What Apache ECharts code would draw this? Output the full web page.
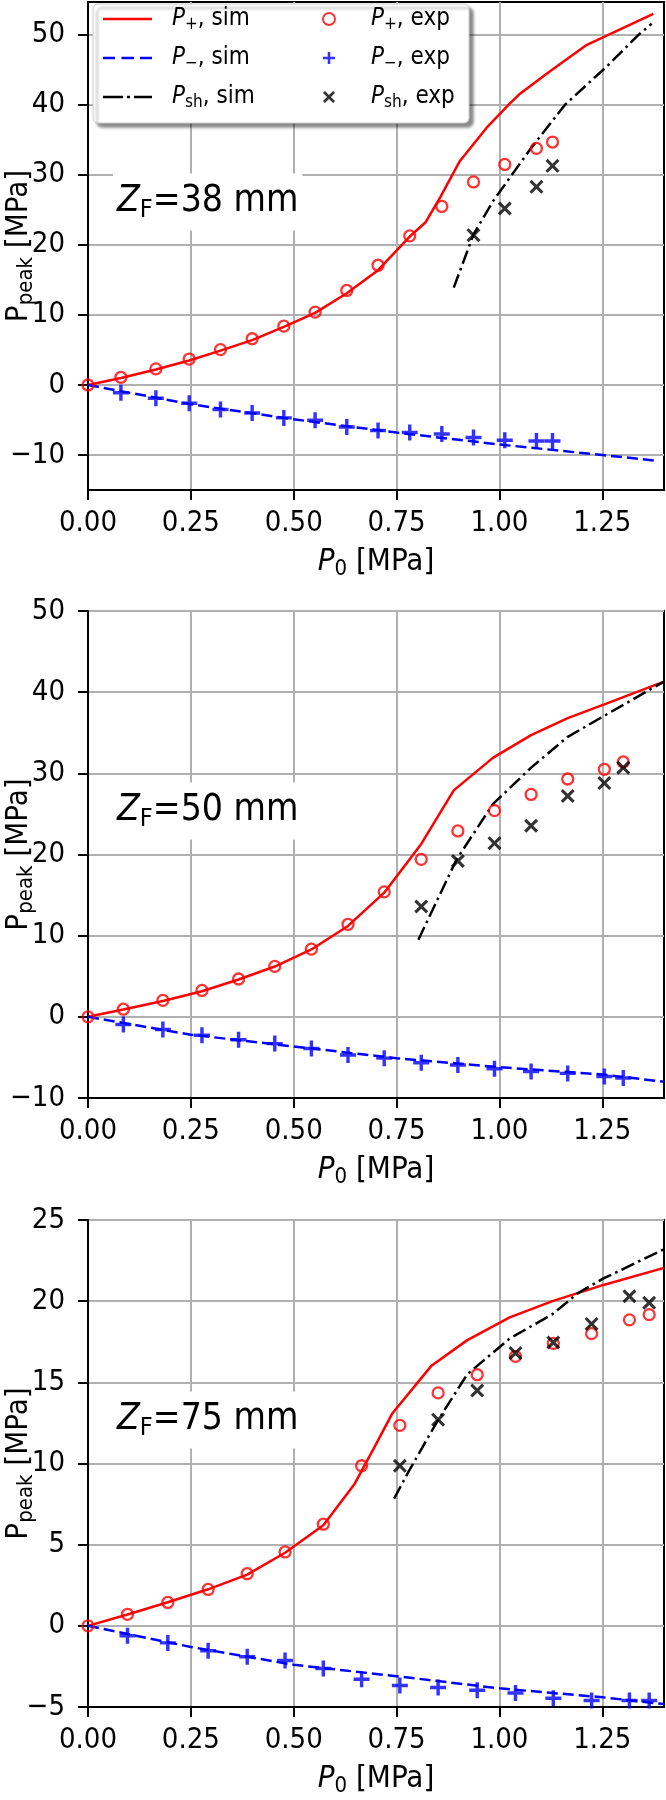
<!DOCTYPE html>
<html><head><meta charset="utf-8">
<script src="https://cdn.jsdelivr.net/npm/echarts@6/dist/echarts.min.js"></script>
<style>html,body{margin:0;padding:0;background:#fff}#c{width:666px;height:1800px}</style>
</head><body><div id="c"></div>
<script>
// ---------- tick labels ----------
const xTicks = [0, 0.25, 0.5, 0.75, 1.0, 1.25];
const yTicks38 = [-10, 0, 10, 20, 30, 40, 50];
const yTicks50 = [-10, 0, 10, 20, 30, 40, 50];
const yTicks75 = [-5, 0, 5, 10, 15, 20, 25];
const panelNames = ['38', '50', '75'];

// ---------- Z_F = 38 mm ----------
const xExp38 = [0, 0.080, 0.165, 0.246, 0.322, 0.399, 0.476, 0.552, 0.629, 0.705, 0.782, 0.860, 0.937, 1.013, 1.090, 1.129];
const pPlusExp38 = [0, 1.1, 2.3, 3.7, 5.05, 6.6, 8.4, 10.4, 13.5, 17.1, 21.3, 25.5, 29.0, 31.5, 33.8, 34.7];
const xMinusExp38 = [0.080, 0.165, 0.246, 0.322, 0.399, 0.476, 0.552, 0.629, 0.705, 0.782, 0.860, 0.937, 1.013, 1.090, 1.129];
const pMinusExp38 = [-1.1, -1.9, -2.6, -3.5, -4.0, -4.7, -5.05, -6.0, -6.5, -6.8, -7.0, -7.5, -7.9, -8.0, -8.0];
const xShExp38 = [0.937, 1.013, 1.090, 1.129];
const pShExp38 = [21.4, 25.2, 28.3, 31.3];
const xPlusSim38 = [0, 0.08, 0.165, 0.246, 0.322, 0.399, 0.476, 0.552, 0.629, 0.705, 0.782, 0.82, 0.856, 0.904, 0.969, 1.022, 1.05, 1.123, 1.21, 1.374];
const pPlusSim38 = [0, 1.0, 2.2, 3.5, 4.9, 6.4, 8.3, 10.3, 13.1, 16.4, 21.2, 23.2, 26.8, 32.0, 36.75, 40.0, 41.6, 44.8, 48.5, 53.0];
const xMinusSim38 = [0, 0.25, 0.5, 0.75, 1.0, 1.25, 1.38];
const pMinusSim38 = [0, -2.75, -4.9, -6.8, -8.5, -10.0, -10.8];
const xShSim38 = [0.889, 0.937, 0.985, 1.030, 1.074, 1.159, 1.261, 1.338, 1.370];
const pShSim38 = [13.9, 21.5, 26.3, 30.0, 33.6, 40.0, 45.5, 50.0, 51.6];

// ---------- Z_F = 50 mm ----------
const xExp50 = [0, 0.086, 0.182, 0.277, 0.366, 0.454, 0.543, 0.632, 0.720, 0.810, 0.899, 0.988, 1.077, 1.166, 1.255, 1.301];
const pPlusExp50 = [0, 0.94, 2.03, 3.25, 4.66, 6.22, 8.34, 11.4, 15.4, 19.4, 22.9, 25.4, 27.4, 29.3, 30.5, 31.4];
const xMinusExp50 = [0.086, 0.182, 0.277, 0.366, 0.454, 0.543, 0.632, 0.720, 0.810, 0.899, 0.988, 1.077, 1.166, 1.255, 1.301];
const pMinusExp50 = [-0.94, -1.55, -2.26, -2.83, -3.30, -3.91, -4.71, -5.09, -5.65, -5.93, -6.4, -6.74, -6.97, -7.35, -7.54];
const xShExp50 = [0.810, 0.899, 0.988, 1.077, 1.166, 1.255, 1.301];
const pShExp50 = [13.6, 19.2, 21.4, 23.55, 27.2, 28.8, 30.7];
const xPlusSim50 = [0, 0.086, 0.182, 0.277, 0.366, 0.454, 0.543, 0.632, 0.720, 0.81, 0.889, 0.984, 1.077, 1.166, 1.255, 1.4];
const pPlusSim50 = [0, 0.9, 1.95, 3.15, 4.6, 6.2, 8.3, 11.2, 15.3, 21.3, 27.9, 31.9, 34.7, 36.8, 38.5, 41.3];
const xMinusSim50 = [0, 0.25, 0.5, 0.75, 1.0, 1.25, 1.4];
const pMinusSim50 = [0, -2.2, -3.65, -5.1, -6.2, -7.1, -8.0];
const xShSim50 = [0.803, 0.896, 0.984, 1.077, 1.166, 1.255, 1.4];
const pShSim50 = [9.5, 19.4, 26.2, 30.7, 34.5, 37.1, 41.3];

// ---------- Z_F = 75 mm ----------
const xExp75 = [0, 0.096, 0.194, 0.292, 0.387, 0.479, 0.572, 0.665, 0.758, 0.851, 0.946, 1.039, 1.131, 1.224, 1.316, 1.364];
const pPlusExp75 = [0, 0.71, 1.44, 2.24, 3.21, 4.55, 6.26, 9.86, 12.35, 14.35, 15.47, 16.6, 17.4, 18.0, 18.85, 19.17];
const xMinusExp75 = [0.096, 0.194, 0.292, 0.387, 0.479, 0.572, 0.665, 0.758, 0.851, 0.946, 1.039, 1.131, 1.224, 1.316, 1.364];
const pMinusExp75 = [-0.61, -1.05, -1.53, -1.9, -2.14, -2.63, -3.29, -3.68, -3.8, -3.97, -4.14, -4.46, -4.6, -4.6, -4.6];
const xShExp75 = [0.758, 0.851, 0.946, 1.039, 1.131, 1.224, 1.316, 1.364];
const pShExp75 = [9.86, 12.7, 14.5, 16.8, 17.45, 18.6, 20.3, 19.9];
const xPlusSim75 = [0, 0.096, 0.194, 0.292, 0.387, 0.479, 0.572, 0.647, 0.694, 0.74, 0.834, 0.922, 1.025, 1.129, 1.253, 1.4];
const pPlusSim75 = [0, 0.7, 1.45, 2.25, 3.15, 4.5, 6.2, 8.7, 10.9, 13.1, 16.0, 17.6, 19.0, 20.0, 21.0, 22.05];
const xMinusSim75 = [0, 0.25, 0.5, 0.75, 1.0, 1.25, 1.4];
const pMinusSim75 = [0, -1.3, -2.4, -3.1, -3.85, -4.4, -4.82];
const xShSim75 = [0.744, 0.777, 0.849, 0.922, 1.025, 1.129, 1.191, 1.253, 1.4];
const pShSim75 = [7.84, 9.4, 12.6, 15.5, 17.7, 19.2, 20.5, 21.4, 23.2];

// ---------- font choice (narrow humanist sans, like the original) ----------
function pickFont() {
  const ctx = document.createElement('canvas').getContext('2d');
  const probe = '0.00 MPa mm Pk';
  ctx.font = '40px monospace';
  const base = ctx.measureText(probe).width;
  for (const f of ['DejaVu Sans Condensed', 'Noto Sans']) {
    ctx.font = '40px "' + f + '", monospace';
    if (Math.abs(ctx.measureText(probe).width - base) > 0.5) return f;
  }
  return 'DejaVu Sans';
}
const FONT = pickFont();

// ---------- build ----------
const pairs = (xs, ys) => xs.map((x, i) => [x, ys[i]]);
const PLUS = 'path://M-1.5,-7L1.5,-7L1.5,-1.5L7,-1.5L7,1.5L1.5,1.5L1.5,7L-1.5,7L-1.5,1.5L-7,1.5L-7,-1.5L-1.5,-1.5Z';
const CROSS = 'path://M4.03,-5.87L5.87,-4.03L1.84,0L5.87,4.03L4.03,5.87L0,1.84L-4.03,5.87L-5.87,4.03L-1.84,0L-5.87,-4.03L-4.03,-5.87L0,-1.84Z';
const ICON_SOLID = 'path://M0,0L49,0L49,2.5L0,2.5Z';
const ICON_DASH = 'path://M0,0L12,0L12,2.5L0,2.5Z M18.5,0L31,0L31,2.5L18.5,2.5Z M37,0L49,0L49,2.5L37,2.5Z';
const ICON_DASHDOT = 'path://M0,0L20,0L20,2.5L0,2.5Z M24,0L27,0L27,2.5L24,2.5Z M31,0L49,0L49,2.5L31,2.5Z';

function rich(fs, sfs, lh, extra) {
  return Object.assign({
    i: {fontFamily: FONT, fontStyle: 'italic', fontSize: fs, lineHeight: lh, color: '#000'},
    u: {fontFamily: FONT, fontSize: fs, lineHeight: lh, color: '#000'},
    s: {fontFamily: FONT, fontSize: sfs, lineHeight: sfs, verticalAlign: 'bottom', color: '#000'}
  }, extra || {});
}
const fmtY = v => (v < 0 ? '\u2212' + Math.abs(v) : String(v));

const panels = [
  {ymin: -15, ymax: 54.7, ticks: yTicks38, split: 7,
   d: [xExp38, pPlusExp38, xMinusExp38, pMinusExp38, xShExp38, pShExp38, xPlusSim38, pPlusSim38, xMinusSim38, pMinusSim38, xShSim38, pShSim38]},
  {ymin: -10, ymax: 50, ticks: yTicks50, split: 6,
   d: [xExp50, pPlusExp50, xMinusExp50, pMinusExp50, xShExp50, pShExp50, xPlusSim50, pPlusSim50, xMinusSim50, pMinusSim50, xShSim50, pShSim50]},
  {ymin: -5, ymax: 25, ticks: yTicks75, split: 6,
   d: [xExp75, pPlusExp75, xMinusExp75, pMinusExp75, xShExp75, pShExp75, xPlusSim75, pPlusSim75, xMinusSim75, pMinusSim75, xShSim75, pShSim75]}
];
const gridBoxes = [{top: 2, height: 488}, {top: 611, height: 487}, {top: 1220, height: 487}];

const TICK_FS = 29, TITLE_FS = 31;
const grid = [], xAxis = [], yAxis = [], series = [], graphic = [];
panels.forEach((p, gi) => {
  const gb = gridBoxes[gi];
  grid.push({left: 88, width: 576, top: gb.top, height: gb.height, containLabel: false, outerBoundsMode: 'none',
    show: true, borderColor: '#000', borderWidth: 2, backgroundColor: 'transparent'});
  xAxis.push({
    type: 'value', gridIndex: gi, min: 0, max: 1.4, interval: 0.25,
    name: '{i|P}{s|0}{u| [MPa]}', nameLocation: 'middle', nameGap: 54, nameMoveOverlap: false,
    nameTextStyle: {rich: rich(TITLE_FS, 22, 36)},
    axisLine: {show: true, onZero: false, lineStyle: {color: '#000', width: 2}},
    axisTick: {show: true, length: 10, customValues: xTicks, lineStyle: {color: '#000', width: 2}},
    axisLabel: {customValues: xTicks, formatter: v => v.toFixed(2), fontFamily: FONT, fontSize: TICK_FS, color: '#000', margin: 19},
    splitLine: {show: true, lineStyle: {color: '#b0b0b0', width: 2}}
  });
  yAxis.push({
    type: 'value', gridIndex: gi, min: p.ymin, max: p.ymax, splitNumber: p.split,
    name: '{u|P}{s|peak}{u| [MPa]}', nameLocation: 'middle', nameGap: 51, nameRotate: 90, nameMoveOverlap: false,
    nameTextStyle: {rich: rich(TITLE_FS, 22, 36)},
    axisLine: {show: true, onZero: false, lineStyle: {color: '#000', width: 2}},
    axisTick: {show: true, length: 10, customValues: p.ticks, lineStyle: {color: '#000', width: 2}},
    axisLabel: {customValues: p.ticks, formatter: fmtY, fontFamily: FONT, fontSize: TICK_FS, color: '#000', margin: 23},
    splitLine: {show: true, lineStyle: {color: '#b0b0b0', width: 2}}
  });
  const d = p.d;
  const common = {xAxisIndex: gi, yAxisIndex: gi, animation: false};
  series.push(Object.assign({name: 'P+ sim', type: 'line', data: pairs(d[6], d[7]), symbol: 'none', showSymbol: false, z: 2,
    lineStyle: {color: '#ff0000', width: 2.5}, itemStyle: {color: '#ff0000'}}, common));
  series.push(Object.assign({name: 'P- sim', type: 'line', data: pairs(d[8], d[9]), symbol: 'none', showSymbol: false, z: 2,
    lineStyle: {color: '#0000ff', width: 2.5, type: [11, 5]}, itemStyle: {color: '#0000ff'}}, common));
  series.push(Object.assign({name: 'Psh sim', type: 'line', data: pairs(d[10], d[11]), symbol: 'none', showSymbol: false, z: 2,
    lineStyle: {color: '#000', width: 2.5, type: [14, 4.5, 2.5, 4.5]}, itemStyle: {color: '#000'}}, common));
  series.push(Object.assign({name: 'P+ exp', type: 'scatter', data: pairs(d[0], d[1]), symbol: 'circle', symbolSize: 11, z: 3,
    itemStyle: {color: 'transparent', borderColor: '#ff0000', borderWidth: 2.3}}, common));
  series.push(Object.assign({name: 'P- exp', type: 'scatter', data: pairs(d[2], d[3]), symbol: PLUS, symbolSize: 16, z: 3,
    itemStyle: {color: '#0000ff'}}, common));
  series.push(Object.assign({name: 'Psh exp', type: 'scatter', data: pairs(d[4], d[5]), symbol: CROSS, symbolSize: 14, z: 3,
    itemStyle: {color: '#000'}}, common));
  graphic.push({type: 'text', x: 113, y: gb.top + 200, z: 10,
    style: {text: '{i|Z}{s|F}{u|=' + panelNames[gi] + ' mm}', rich: rich(37, 25, 42), verticalAlign: 'middle', align: 'left',
      backgroundColor: '#fff', padding: [7, 4, 8, 4]}});
});

graphic.push({type: 'rect', z: 10, shape: {x: 93, y: 4, width: 376, height: 119, r: 5},
  style: {fill: '#fff', stroke: '#cccccc', lineWidth: 1, shadowBlur: 3, shadowOffsetX: 4, shadowOffsetY: 4, shadowColor: 'rgba(0,0,0,0.45)'}});

const legendText = {
  'P+ sim': '{g| }{i|P}{s|+}{u|, sim}',
  'P- sim': '{g| }{i|P}{s|\u2212}{u|, sim}',
  'Psh sim': '{g| }{i|P}{s|sh}{u|, sim}',
  'P+ exp': '{h| }{i|P}{s|+}{u|, exp}',
  'P- exp': '{h| }{i|P}{s|\u2212}{u|, exp}',
  'Psh exp': '{h| }{i|P}{s|sh}{u|, exp}'
};
const legendBase = {orient: 'vertical', padding: 0, itemGap: 13, z: 20, selectedMode: false, symbolKeepAspect: true,
  formatter: n => legendText[n],
  textStyle: {rich: rich(24, 17, 28, {g: {width: 15, lineHeight: 28}, h: {width: 31, lineHeight: 28}})}};

const option = {
  backgroundColor: '#fff',
  animation: false,
  grid, xAxis, yAxis, series, graphic,
  legend: [
    Object.assign({}, legendBase, {left: 103, top: 7, itemWidth: 49, itemHeight: 28,
      data: [{name: 'P+ sim', icon: ICON_SOLID}, {name: 'P- sim', icon: ICON_DASH}, {name: 'Psh sim', icon: ICON_DASHDOT}]}),
    Object.assign({}, legendBase, {left: 322, top: 7, itemWidth: 12, itemHeight: 28,
      data: [{name: 'P+ exp', itemStyle: {color: 'transparent', borderColor: '#ff0000', borderWidth: 2}}, 'P- exp', 'Psh exp']})
  ]
};
const chart = echarts.init(document.getElementById('c'), null, {renderer: 'canvas'});
chart.setOption(option);
</script></body></html>
